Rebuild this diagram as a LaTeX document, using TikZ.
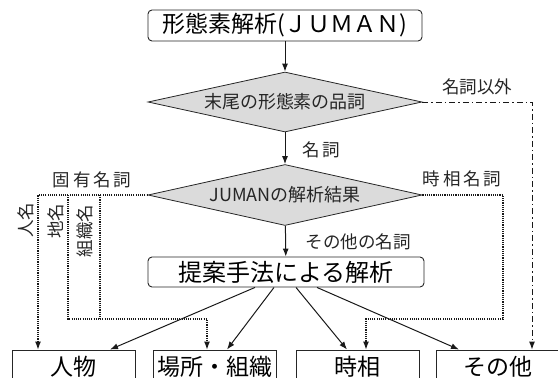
\documentclass[tikz,border=0pt]{standalone}
\usepackage{fontspec}
\setmainfont{Noto Sans CJK JP}
\usetikzlibrary{shapes.geometric,arrows.meta}
\begin{document}
\begin{tikzpicture}[x=1pt,y=-1pt,
  box/.style={draw=black!85,line width=0.9pt,rounded corners=4pt,minimum width=274pt,minimum height=31pt,inner sep=0pt},
  cat/.style={draw=black!85,line width=0.9pt,minimum width=123pt,minimum height=34pt,inner sep=0pt,font=\fontsize{23}{23}\selectfont},
  dia/.style={diamond,draw=black!85,fill=black!14,line width=0.8pt,minimum width=274pt,minimum height=60pt,inner sep=0pt,aspect=4.57,font=\fontsize{18}{18}\selectfont,text=black!85},
  arr/.style={-{Latex[length=8pt,width=6pt]},line width=1pt,draw=black!90},
  dotline/.style={line width=1.1pt,dash pattern=on 1.1pt off 1.1pt,draw=black!90},
  dotarr/.style={dotline,-{Latex[length=8pt,width=6pt]}},
  ddarr/.style={line width=1pt,dash pattern=on 6pt off 3pt on 1.5pt off 3pt,draw=black!90,-{Latex[length=8pt,width=6pt]}},
  lbl/.style={inner sep=0pt,font=\fontsize{17.5}{18}\selectfont,text=black!85}]
\useasboundingbox (0,0) rectangle (558,378);

\node[box,font=\fontsize{23}{23}\selectfont] (top) at (285,25.5) {形態素解析(ＪＵＭＡＮ)};
\node[dia] (d1) at (285,102) {末尾の形態素の品詞};
\node[dia,minimum height=61pt] (d2) at (285,195) {JUMANの解析結果};
\node[box,minimum width=276pt,minimum height=30pt,font=\fontsize{24}{24}\selectfont] (prop) at (286,272) {提案手法による解析};

\node[cat] (c1) at (73.5,367) {人物};
\node[cat] (c2) at (215,367) {場所・組織};
\node[cat] (c3) at (357.5,367) {時相};
\node[cat] (c4) at (498,367) {その他};

\node[lbl] (lmeishi) at (321,150) {名\,詞};
\node[lbl] (lother) at (358,242) {その他の名詞};
\node[lbl] (lkoyu) at (92,180) {固\,有\,名\,詞};
\node[lbl] (ljiso) at (462,179) {時\,相\,名\,詞};
\node[lbl] (lnot) at (477,87) {名詞以外};
\node[lbl,rotate=90] (ljin) at (26,220) {人名};
\node[lbl,rotate=90] (lchi) at (56,221) {地名};
\node[lbl,rotate=90] (lsoshiki) at (85,231) {組織名};

\draw[arr] (top) -- (d1);
\draw[arr] (d1) -- (d2);
\draw[arr] (d2) -- (prop);

\coordinate (kL1) at (38,195);
\coordinate (kL2) at (68,195);
\coordinate (kL3) at (100,195);
\coordinate (kB) at (207,319);
\coordinate (kR) at (503,195);
\coordinate (kR2) at (366,319);
\coordinate (kN) at (532,102);

\draw[dotarr] (d2.west) -- (kL1) -- (kL1 |- c1.north);
\draw[dotarr] (kL2) |- (kB) -- (kB |- c2.north);
\draw[dotline] (kL3) -- (kL3 |- kB);
\draw[dotarr] (d2.east) -- (kR) |- (kR2) -- (kR2 |- c3.north);
\draw[ddarr] (d1.east) -- (kN) -- (kN |- c4.north);

\draw[arr] ([xshift=-31pt]prop.south) -- ([xshift=36.5pt]c1.north);
\draw[arr] ([xshift=-12pt]prop.south) -- ([xshift=12pt]c2.north);
\draw[arr] ([xshift=10pt]prop.south) -- ([xshift=-10.5pt]c3.north);
\draw[arr] ([xshift=31pt]prop.south) -- ([xshift=-39pt]c4.north);
\end{tikzpicture}
\end{document}
